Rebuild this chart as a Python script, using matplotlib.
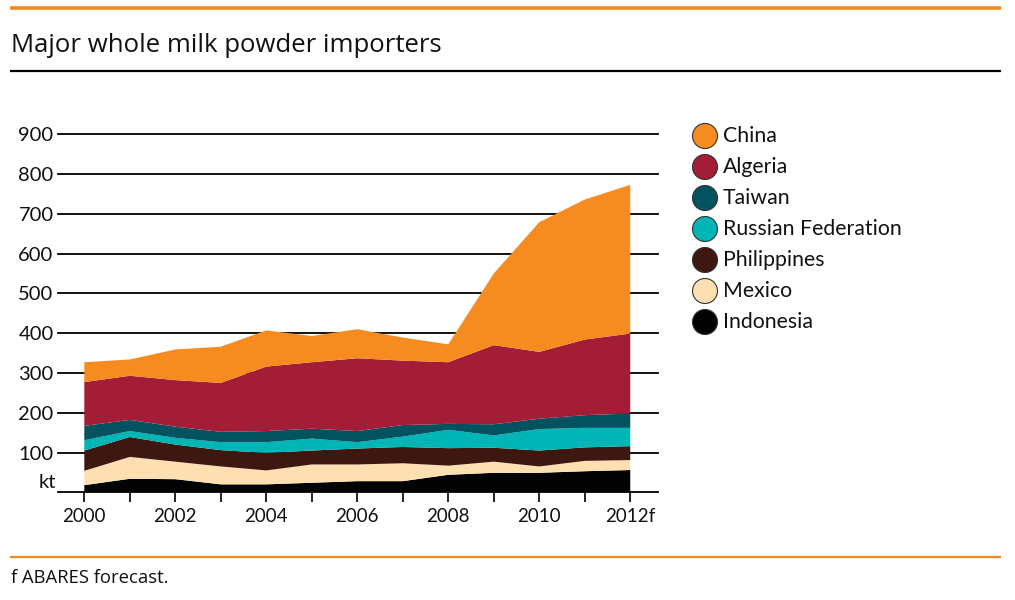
import matplotlib
matplotlib.use("Agg")
import matplotlib.pyplot as plt
from matplotlib.patches import Circle

years = [2000, 2001, 2002, 2003, 2004, 2005, 2006, 2007, 2008, 2009, 2010, 2011, 2012]
xtick_labels = ["2000", "2002", "2004", "2006", "2008", "2010", "2012f"]
ytick_values = [100, 200, 300, 400, 500, 600, 700, 800, 900]

indonesia   = [18, 34, 33, 20, 20, 24, 28, 28, 44, 49, 49, 53, 56]
mexico      = [36, 55, 44, 45, 35, 46, 42, 45, 23, 28, 16, 26, 25]
philippines = [51, 50, 43, 41, 44, 35, 40, 41, 44, 35, 40, 34, 35]
russia      = [26, 15, 17, 20, 27, 30, 16, 26, 46, 31, 54, 49, 46]
taiwan      = [36, 28, 28, 26, 28, 25, 28, 29, 15, 28, 26, 32, 36]
algeria     = [110, 111, 117, 123, 162, 167, 183, 162, 155, 199, 168, 190, 201]
china       = [50, 41, 77, 91, 91, 66, 73, 58, 45, 180, 326, 352, 374]

series_names = ["China", "Algeria", "Taiwan", "Russian Federation", "Philippines", "Mexico", "Indonesia"]
colors = {
    "China": "#F68B1F",
    "Algeria": "#A31D37",
    "Taiwan": "#02525F",
    "Russian Federation": "#00B5B5",
    "Philippines": "#3D1710",
    "Mexico": "#FEDFB1",
    "Indonesia": "#030303",
}

plt.rcParams['font.family'] = ['Lato', 'DejaVu Sans']

W, H = 1015, 600
fig = plt.figure(figsize=(W / 100, H / 100), dpi=100)

# Overlay for decorations in pixel coordinates
deco = fig.add_axes([0, 0, 1, 1])
deco.set_xlim(0, W)
deco.set_ylim(H, 0)
deco.axis("off")
deco.plot([10, 1001], [8, 8], color="#F28A22", lw=2.6, solid_capstyle="butt")
deco.plot([10, 1001], [71, 71], color="black", lw=1.6, solid_capstyle="butt")
deco.plot([10, 1001], [557, 557], color="#F28A22", lw=1.6, solid_capstyle="butt")
deco.text(11, 45, "Major whole milk powder importers", fontsize=18.5,
          family=["Open Sans", "DejaVu Sans"], va="center", ha="left", color="#111111")
deco.text(11, 578, "f ABARES forecast.", fontsize=13.3,
          family=["Open Sans", "DejaVu Sans"], va="center", ha="left", color="#111111")

# Legend
leg_y0, leg_dy = 136, 31
for i, name in enumerate(series_names):
    y = leg_y0 + i * leg_dy
    deco.add_patch(Circle((705, y), 12.5, facecolor=colors[name],
                          edgecolor="#333333", lw=0.8))
    deco.text(723, y, name, fontsize=15.3, va="center", ha="left", color="#111111")

# Main chart
left, right = 57.7 / W, 658 / W
bottom, top = 1 - 492.3 / H, 1 - 134.3 / H
ax = fig.add_axes([left, bottom, right - left, top - bottom])
ax.set_xlim(1999.415, 2012.61)
ax.set_ylim(0, 900)
ax.patch.set_alpha(0)
for s in ax.spines.values():
    s.set_visible(False)

for v in [0] + ytick_values:
    ax.axhline(v, color="black", lw=1.3, zorder=1, clip_on=False)

stack_data = [indonesia, mexico, philippines, russia, taiwan, algeria, china]
stack_cols = [colors[n] for n in ["Indonesia", "Mexico", "Philippines",
                                  "Russian Federation", "Taiwan", "Algeria", "China"]]
ax.stackplot(years, *stack_data, colors=stack_cols, lw=0, zorder=2)

ax.set_yticks(ytick_values)
ax.set_yticklabels([str(v) for v in ytick_values], fontsize=14.5, color="#111111")
ax.tick_params(axis="y", length=0, pad=3)
ax.text(-0.003, 3, "kt", transform=ax.get_yaxis_transform(), ha="right", va="bottom",
        fontsize=14.5, color="#111111")

ax.set_xticks(years)
label_map = {int(lbl[:4]): lbl for lbl in xtick_labels}
ax.set_xticklabels([label_map.get(y, "") for y in years], fontsize=13.5, color="#111111")
ax.tick_params(axis="x", direction="out", length=7, width=1.2, color="black", pad=4)

fig.savefig("out.png", dpi=100)
